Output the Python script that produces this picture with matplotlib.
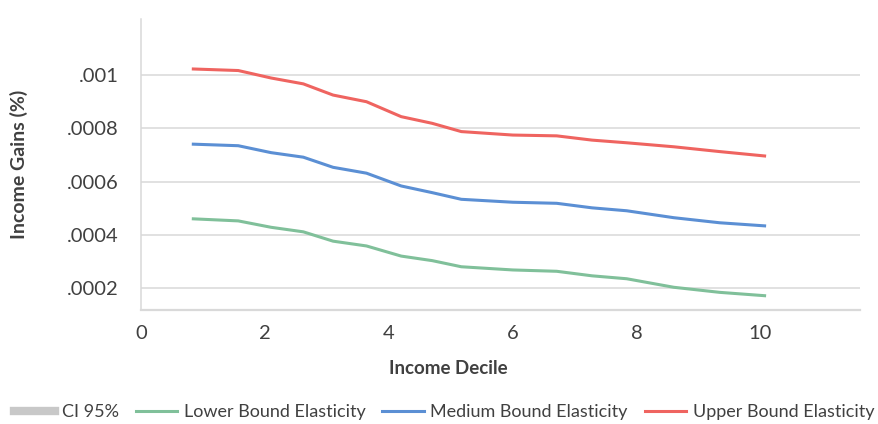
import matplotlib
matplotlib.use("Agg")
import matplotlib.pyplot as plt
from matplotlib.lines import Line2D

plt.rcParams['font.family'] = ['Lato', 'DejaVu Sans']

# income decile positions
decile = [0.82, 1.57, 2.1, 2.62, 3.1, 3.64, 4.2, 4.7, 5.17, 6.0, 6.71, 7.28, 7.84, 8.6, 9.34, 10.09]

lower = [0.000461, 0.000453, 0.000429, 0.000412, 0.000377, 0.000359, 0.000321, 0.000304,
         0.000281, 0.000269, 0.000264, 0.000247, 0.000236, 0.000204, 0.000185, 0.000172]
medium = [0.000741, 0.000735, 0.000709, 0.000692, 0.000654, 0.000632, 0.000584, 0.000559,
          0.000534, 0.000523, 0.000519, 0.000502, 0.000491, 0.000465, 0.000446, 0.000434]
upper = [0.001023, 0.001017, 0.000989, 0.000967, 0.000925, 0.000900, 0.000844, 0.000819,
         0.000788, 0.000775, 0.000772, 0.000756, 0.000746, 0.000731, 0.000713, 0.000696]

yticks = [0.0002, 0.0004, 0.0006, 0.0008, 0.001]
ytick_labels = ['.0002', '.0004', '.0006', '.0008', '.001']
xticks = [0, 2, 4, 6, 8, 10]

series_names = ['Lower Bound Elasticity', 'Medium Bound Elasticity', 'Upper Bound Elasticity']
colors = ['#80c09a', '#5b8fd4', '#ef6460']
txt = '#404040'

fig = plt.figure(figsize=(8.79, 4.24), dpi=100)
ax = fig.add_axes([0.1604, 0.269, 0.8176, 0.686])

for vals, name, c in zip([lower, medium, upper], series_names, colors):
    ax.plot(decile, vals, color=c, lw=2.2, label=name, solid_capstyle='butt')

ax.set_xlim(0, 11.6)
ax.set_ylim(0.000119, 0.00121)
ax.set_yticks(yticks, ytick_labels)
ax.set_xticks(xticks)

ax.grid(axis='y', color='#d9d9d9', lw=1.1)
ax.set_axisbelow(True)
for s in ['top', 'right']:
    ax.spines[s].set_visible(False)
ax.spines['left'].set_color('#d9d9d9')
ax.spines['bottom'].set_color('#d9d9d9')
ax.spines['left'].set_linewidth(1.1)
ax.spines['bottom'].set_linewidth(1.6)
ax.tick_params(axis='y', length=0, pad=16, labelsize=14.5, labelcolor=txt)
ax.tick_params(axis='x', length=0, pad=11, labelsize=14.5, labelcolor=txt)

ax.set_ylabel('Income Gains (%)', fontsize=14, fontweight='bold', color=txt)
ax.yaxis.set_label_coords(-0.157, 0.5)
ax.set_xlabel('Income Decile', fontsize=13.5, fontweight='bold', color=txt)
ax.xaxis.set_label_coords(0.427, -0.172)

handles = [Line2D([], [], color='#c8c8c8', lw=6)]
handles += [Line2D([], [], color=c, lw=2.2) for c in colors]
labels = ['CI 95%'] + series_names
fig.legend(handles, labels, loc='lower center', bbox_to_anchor=(0.505, -0.03), ncol=4,
           frameon=False, fontsize=13, handlelength=2.3, handletextpad=0.35,
           columnspacing=0.95, labelcolor=txt)

fig.savefig('out.png', dpi=100)
